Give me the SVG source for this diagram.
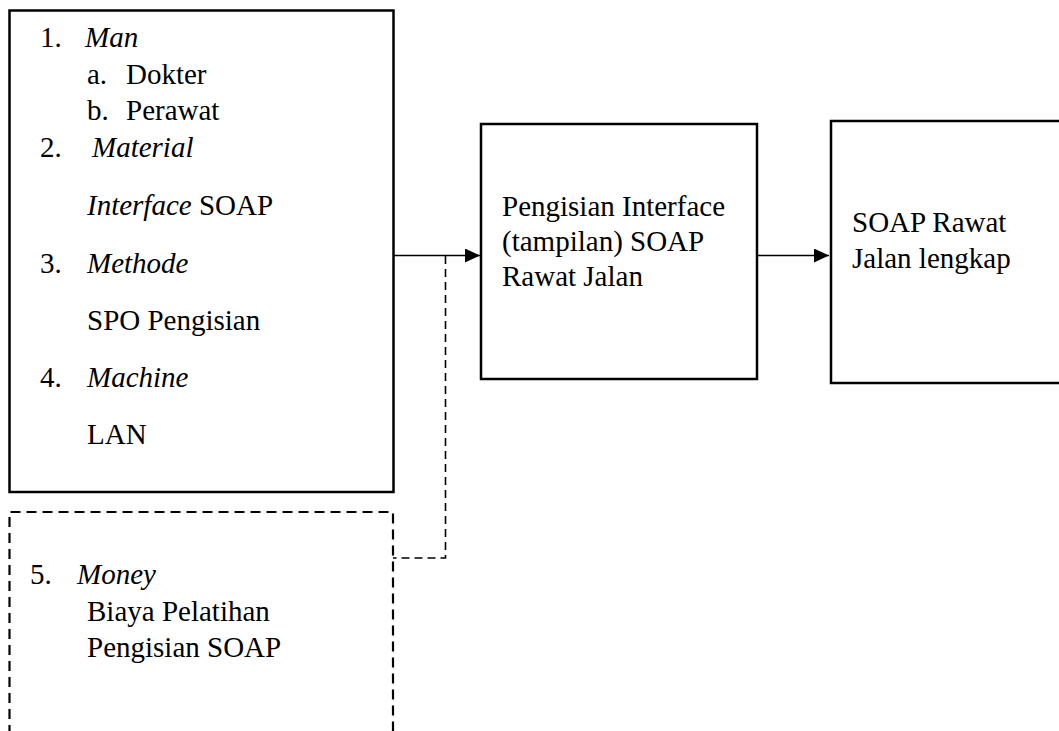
<svg xmlns="http://www.w3.org/2000/svg" width="1059" height="731" viewBox="0 0 1059 731">
<style>
  text { font-family: "Liberation Serif", "Times New Roman", serif; font-size: 29px; fill: #000; }
  .it { font-style: italic; }
  .box { fill: #fff; stroke: #000; stroke-width: 2.5; }
  .dbox { fill: none; stroke: #000; stroke-width: 2.2; stroke-dasharray: 10 6; }
  .line { fill: none; stroke: #000; stroke-width: 1.4; }
  .dline { fill: none; stroke: #000; stroke-width: 1.6; stroke-dasharray: 8 5; }
</style>
<defs>
  <marker id="arrow" markerUnits="userSpaceOnUse" markerWidth="16" markerHeight="14" refX="15" refY="7" orient="auto">
    <path d="M0,0 L15,7 L0,14 Z" fill="#000"/>
  </marker>
</defs>
<rect width="1059" height="731" fill="#fff"/>

<g id="connectors">
  <line class="line" x1="393" y1="255.5" x2="480" y2="255.5" marker-end="url(#arrow)"/>
  <line class="line" x1="757" y1="255.5" x2="829" y2="255.5" marker-end="url(#arrow)"/>
  <polyline class="dline" points="445.5,256 445.5,558 393,558"/>
</g>

<g id="node-inputs">
  <rect class="box" x="9.5" y="10.5" width="384" height="481.5"/>
  <text x="40" y="47">1.</text><text class="it" x="85" y="47">Man</text>
  <text x="87" y="84">a.</text><text x="126" y="84">Dokter</text>
  <text x="87" y="120">b.</text><text x="126" y="120">Perawat</text>
  <text x="40" y="157">2.</text><text class="it" x="92" y="157">Material</text>
  <text x="87" y="215"><tspan class="it">Interface</tspan> SOAP</text>
  <text x="40" y="273">3.</text><text class="it" x="87" y="273">Methode</text>
  <text x="87" y="330">SPO Pengisian</text>
  <text x="40" y="387">4.</text><text class="it" x="87" y="387">Machine</text>
  <text x="87" y="444">LAN</text>
</g>

<g id="node-money">
  <path class="dbox" d="M9.5,735 L9.5,512 L393,512 L393,735"/>
  <text x="30" y="584">5.</text><text class="it" x="77" y="584">Money</text>
  <text x="87" y="621">Biaya Pelatihan</text>
  <text x="87" y="657">Pengisian SOAP</text>
</g>

<g id="node-process">
  <rect class="box" x="481" y="124" width="276" height="255"/>
  <text x="502" y="216">Pengisian Interface</text>
  <text x="502" y="251">(tampilan) SOAP</text>
  <text x="502" y="286">Rawat Jalan</text>
</g>

<g id="node-output">
  <rect class="box" x="831" y="121" width="240" height="262"/>
  <text x="852" y="232">SOAP Rawat</text>
  <text x="852" y="268">Jalan lengkap</text>
</g>
</svg>
